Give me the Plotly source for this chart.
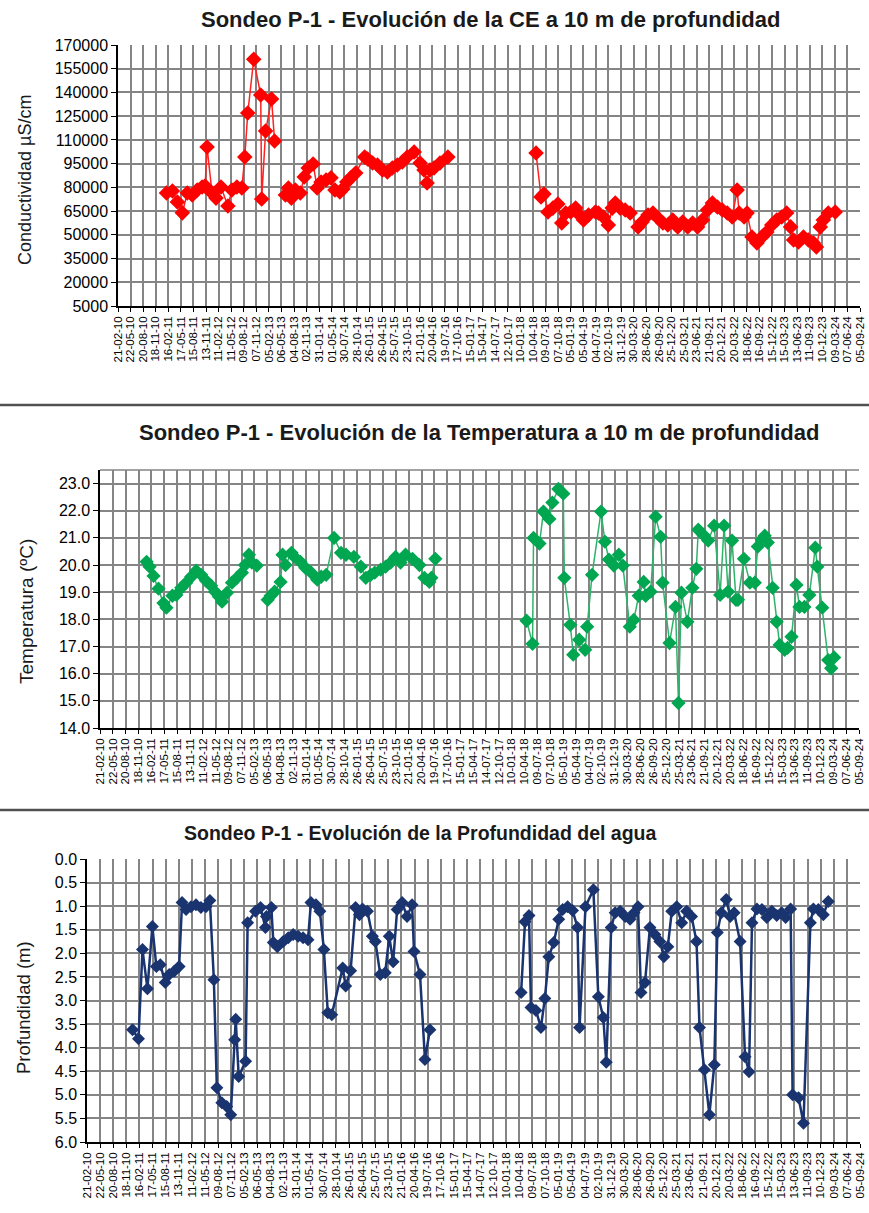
import pandas as pd
import plotly.graph_objects as go

# ---------------- data ----------------
tick_labels = ["21-02-10","22-05-10","20-08-10","18-11-10","16-02-11","17-05-11","15-08-11","13-11-11",
               "11-02-12","11-05-12","09-08-12","07-11-12","05-02-13","06-05-13","04-08-13","02-11-13",
               "31-01-14","01-05-14","30-07-14","28-10-14","26-01-15","26-04-15","25-07-15","23-10-15",
               "21-01-16","20-04-16","19-07-16","17-10-16","15-01-17","15-04-17","14-07-17","12-10-17",
               "10-01-18","10-04-18","09-07-18","07-10-18","05-01-19","05-04-19","04-07-19","02-10-19",
               "31-12-19","30-03-20","28-06-20","26-09-20","25-12-20","25-03-21","23-06-21","21-09-21",
               "20-12-21","20-03-22","18-06-22","16-09-22","15-12-22","15-03-23","13-06-23","11-09-23",
               "10-12-23","09-03-24","07-06-24","05-09-24"]

# Conductividad (decimal year, uS/cm); None = gap
ce_year = [2011.091,2011.207,2011.304,2011.401,2011.498,2011.595,2011.692,2011.789,2011.848,2011.886,
           2011.983,2012.061,2012.158,2012.294,2012.372,2012.469,2012.566,2012.624,2012.682,2012.799,
           2012.935,2012.954,2013.031,2013.148,2013.207,None,
           2013.420,2013.478,2013.537,2013.614,2013.711,2013.789,2013.866,2013.963,2014.041,2014.118,
           2014.216,2014.313,2014.390,2014.487,2014.546,2014.623,2014.701,2014.798,2014.973,2015.031,
           2015.128,2015.225,2015.322,2015.419,2015.516,2015.613,2015.711,2015.807,2015.943,2016.060,
           2016.137,2016.196,2016.254,2016.332,2016.448,2016.603,None,
           2018.331,2018.428,2018.486,2018.564,2018.661,2018.758,2018.835,2018.913,2019.010,2019.107,
           2019.185,2019.262,2019.360,2019.495,2019.554,2019.651,2019.748,2019.825,2019.884,2019.981,
           2020.078,2020.175,2020.330,2020.408,2020.524,2020.621,2020.718,2020.815,2020.912,2021.009,
           2021.106,2021.204,2021.301,2021.398,2021.495,2021.592,2021.689,2021.786,2021.883,2021.980,
           2022.077,2022.174,2022.271,2022.310,2022.407,2022.465,2022.562,2022.659,2022.756,2022.853,
           2022.950,2023.047,2023.144,2023.242,2023.319,2023.377,2023.474,2023.571,2023.668,2023.765,
           2023.824,2023.901,2023.960,2024.057,2024.193]
ce_val = [76400,77700,70700,63900,76400,75200,78300,80200,80800,105500,
          76400,73200,80200,68200,78300,80200,79600,99200,127000,161000,
          138400,72600,115600,135900,109300,None,
          75200,79600,73200,78300,76400,86600,92200,94800,79600,83400,
          84700,86000,78300,77100,79000,83400,86000,89100,99200,97900,
          95400,94100,91000,89700,92200,94100,96000,99200,102400,95400,
          91000,82800,91000,92200,95400,99200,None,
          101700,73900,75800,64400,66900,69500,57500,63800,64400,66900,
          62500,59400,62500,64400,63800,61300,56200,66900,70100,66900,
          65700,63800,55000,58100,62500,63800,60600,57500,56200,59400,
          55000,58100,55000,57500,55000,59400,65700,70100,67600,65700,
          63800,61300,78300,63800,61300,63800,48600,44900,48600,51800,
          56200,59400,61300,63800,55000,46700,45500,48600,46700,44900,
          42300,55000,59400,63800,64400]

# Temperatura (decimal year, ºC)
t_year = [2011.033,2011.090,2011.166,2011.261,2011.356,2011.413,2011.527,2011.603,2011.698,2011.793,
          2011.888,2011.983,2012.078,2012.173,2012.268,2012.344,2012.420,2012.477,2012.573,2012.668,
          2012.763,2012.858,2012.915,2012.991,2013.048,2013.143,None,
          2013.351,2013.408,2013.484,2013.598,2013.636,2013.693,2013.807,2013.864,2013.978,2014.073,
          2014.187,2014.301,2014.377,2014.472,2014.624,2014.757,2014.852,2015.004,2015.137,2015.232,
          2015.327,2015.403,2015.517,2015.612,2015.708,2015.803,2015.898,2015.993,2016.126,2016.259,
          2016.354,2016.449,2016.487,2016.563,None,
          2018.311,2018.425,2018.444,2018.558,2018.634,2018.748,2018.805,2018.920,2019.015,2019.034,
          2019.148,2019.205,2019.319,2019.433,2019.471,2019.566,2019.737,2019.813,2019.889,2019.984,
          2020.079,2020.155,2020.288,2020.364,2020.459,2020.554,2020.592,2020.687,2020.782,2020.877,
          2020.915,2021.048,2021.162,2021.219,2021.276,2021.390,2021.485,2021.561,2021.599,2021.694,
          2021.789,2021.903,2022.018,2022.094,2022.170,2022.246,2022.322,2022.360,2022.474,2022.588,
          2022.683,2022.740,2022.816,2022.873,2022.930,2023.025,2023.101,2023.158,2023.253,2023.310,
          2023.386,2023.481,2023.538,2023.633,2023.728,2023.842,2023.880,2023.975,2024.089,2024.146,
          2024.203]
t_val = [20.12,19.94,19.60,19.13,18.60,18.43,18.87,18.90,19.16,19.35,
         19.57,19.79,19.64,19.42,19.24,19.02,18.83,18.65,18.98,19.35,
         19.53,19.72,20.00,20.38,20.09,19.98,None,
         18.72,18.87,19.02,19.38,20.38,20.00,20.45,20.30,20.12,19.90,
         19.72,19.46,19.57,19.64,21.00,20.45,20.38,20.30,19.94,19.53,
         19.64,19.72,19.83,19.94,20.09,20.30,20.09,20.38,20.23,20.00,
         19.53,19.38,19.53,20.23,None,
         17.95,17.10,21.00,20.79,21.97,21.70,22.30,22.80,22.63,19.53,
         17.80,16.70,17.25,16.88,17.73,19.64,21.97,20.86,20.20,19.98,
         20.38,19.98,17.73,17.98,18.87,19.38,18.87,19.02,21.78,21.04,
         19.35,17.13,18.46,14.92,18.98,17.91,19.16,19.86,21.30,21.12,
         20.90,21.45,18.90,21.45,19.02,20.90,18.72,18.72,20.23,19.35,
         19.35,20.68,20.94,21.08,20.83,19.16,17.91,17.06,16.88,16.95,
         17.36,19.27,18.46,18.46,18.90,20.64,19.94,18.43,16.50,16.20,
         16.60]

# Profundidad del agua (decimal year, m)
p_year = [2010.997,2011.109,2011.184,2011.277,2011.370,2011.445,2011.519,2011.612,2011.687,2011.780,
          2011.873,2011.929,2012.004,2012.097,2012.190,2012.283,2012.377,2012.451,2012.526,2012.582,
          2012.675,2012.768,2012.843,2012.917,2012.936,2012.992,2013.122,2013.160,2013.309,2013.402,
          2013.495,2013.514,2013.607,2013.644,2013.719,2013.831,2013.924,2014.017,2014.110,2014.203,
          2014.296,2014.352,2014.446,2014.520,2014.595,2014.669,2014.744,2014.949,2015.005,2015.098,
          2015.191,2015.266,2015.322,2015.415,2015.508,2015.564,2015.657,2015.750,2015.825,2015.899,
          2015.974,2016.067,2016.160,2016.254,2016.291,2016.403,2016.496,2016.589,None,
          2018.304,2018.378,2018.453,2018.490,2018.583,2018.677,2018.751,2018.826,2018.919,2019.012,
          2019.087,2019.180,2019.273,2019.366,2019.404,2019.516,2019.664,2019.758,2019.851,2019.907,
          2020.000,2020.075,2020.168,2020.261,2020.354,2020.429,2020.503,2020.559,2020.634,2020.727,
          2020.820,2020.913,2020.988,2021.062,2021.137,2021.230,2021.323,2021.417,2021.510,2021.603,
          2021.659,2021.752,2021.845,2021.938,2021.994,2022.069,2022.162,2022.237,2022.311,2022.423,
          2022.516,2022.591,2022.647,2022.740,2022.833,2022.926,2023.020,2023.113,2023.206,2023.280,
          2023.374,2023.411,2023.523,2023.616,2023.746,2023.802,2023.896,2023.989,2024.082]
p_val = [3.62,3.81,1.92,2.75,1.43,2.28,2.24,2.62,2.45,2.38,
         2.28,0.92,1.07,1.01,0.97,1.03,1.01,0.88,2.56,4.85,
         5.17,5.25,5.42,3.83,3.40,4.61,4.29,1.35,1.11,1.03,
         1.45,1.22,1.03,1.77,1.86,1.75,1.67,1.60,1.64,1.67,
         1.71,0.92,0.97,1.11,1.92,3.26,3.30,2.31,2.69,2.37,
         1.03,1.18,1.06,1.11,1.64,1.75,2.45,2.41,1.64,2.18,
         1.07,0.92,1.22,0.97,1.96,2.45,4.25,3.62,None,
         2.83,1.33,1.20,3.15,3.21,3.57,2.96,2.07,1.77,1.28,
         1.07,1.01,1.09,1.45,3.57,1.01,0.65,2.92,3.36,4.31,
         1.45,1.14,1.11,1.22,1.28,1.14,1.01,2.83,2.62,1.45,
         1.60,1.75,2.07,1.86,1.11,1.01,1.35,1.11,1.22,1.75,
         3.57,4.47,5.42,4.36,1.56,1.14,0.86,1.22,1.14,1.75,
         4.19,4.51,1.35,1.06,1.07,1.24,1.11,1.20,1.14,1.24,
         1.06,5.00,5.06,5.60,1.35,1.06,1.07,1.18,0.90]


def to_date(y):
    if y is None:
        return None
    yr = int(y)
    start = pd.Timestamp(yr, 1, 1)
    end = pd.Timestamp(yr + 1, 1, 1)
    return (start + (y - yr) * (end - start)).strftime("%Y-%m-%d %H:%M")


tick_vals = [pd.to_datetime(t, format="%d-%m-%y").strftime("%Y-%m-%d") for t in tick_labels]
x_range = [tick_vals[0], tick_vals[-1]]

W, H = 869, 1213
def px(x):
    return x / W
def py(y):
    return 1 - y / H

FONT = "Liberation Sans, Arial, sans-serif"
GRID = "#858585"

fig = go.Figure()
fig.add_trace(go.Scatter(x=[to_date(v) for v in ce_year], y=ce_val, mode="lines+markers",
                         line=dict(color="#ff2020", width=1.5),
                         marker=dict(symbol="diamond", size=12, color="#ff0000"),
                         xaxis="x", yaxis="y", showlegend=False))
fig.add_trace(go.Scatter(x=[to_date(v) for v in t_year], y=t_val, mode="lines+markers",
                         line=dict(color="#2fb36a", width=1.5),
                         marker=dict(symbol="diamond", size=11, color="#00a650"),
                         xaxis="x2", yaxis="y2", showlegend=False))
fig.add_trace(go.Scatter(x=[to_date(v) for v in p_year], y=p_val, mode="lines+markers",
                         line=dict(color="#1a3470", width=2.5),
                         marker=dict(symbol="diamond", size=10, color="#1a3470"),
                         xaxis="x3", yaxis="y3", showlegend=False))

def xaxis(dom, anchor):
    return dict(domain=dom, anchor=anchor, type="date", range=x_range, automargin=False,
                tickmode="array", tickvals=tick_vals, ticktext=tick_labels, tickangle=-90,
                ticklabeloverflow="allow",
                tickfont=dict(family=FONT, size=11.5, color="black"),
                showgrid=True, gridcolor=GRID, gridwidth=1.5,
                showline=True, linecolor="black", linewidth=1.5,
                ticks="outside", ticklen=4, tickcolor="black", zeroline=False)

def yaxis(dom, anchor, rng, dtick, fmt, tick0):
    return dict(domain=dom, anchor=anchor, range=rng, dtick=dtick, tick0=tick0, tickformat=fmt,
                automargin=False,
                tickfont=dict(family=FONT, size=16, color="black"),
                showgrid=True, gridcolor=GRID, gridwidth=1.5,
                showline=True, linecolor="black", linewidth=1.5,
                ticks="outside", ticklen=5, tickcolor="black", zeroline=False)

fig.update_layout(
    width=W, height=H, autosize=False,
    margin=dict(l=0, r=0, t=0, b=0, autoexpand=False),
    paper_bgcolor="white", plot_bgcolor="white",
    xaxis=xaxis([px(118), px(860)], "y"),
    yaxis=yaxis([py(306), py(45)], "x", [5000, 170000], 15000, "d", 5000),
    xaxis2=xaxis([px(100), px(859)], "y2"),
    yaxis2=yaxis([py(728), py(470)], "x2", [14, 23.5], 1, ".1f", 14),
    xaxis3=xaxis([px(87), px(860)], "y3"),
    yaxis3=yaxis([py(1142), py(859)], "x3", [6, 0], 0.5, ".1f", 0),
)

# top border of temperature plot
fig.add_shape(type="line", xref="x2 domain", yref="y2 domain", x0=0, x1=1, y0=1, y1=1,
              line=dict(color=GRID, width=1.5))

# separators between panels
for ys in (405, 810):
    fig.add_shape(type="line", xref="paper", yref="paper", x0=0, x1=1, y0=py(ys), y1=py(ys),
                  line=dict(color="#505050", width=2.5))

titles = [("Sondeo P-1 - Evolución de la CE a 10 m de profundidad", 490, 20, 22),
          ("Sondeo P-1 - Evolución de la Temperatura a 10 m de profundidad", 480, 433, 22),
          ("Sondeo P-1 - Evolución de la Profundidad del agua", 420, 833, 19.5)]
for text, xc, yc, sz in titles:
    fig.add_annotation(text="<b>%s</b>" % text, xref="paper", yref="paper", x=px(xc), y=py(yc),
                       showarrow=False, xanchor="center", yanchor="middle",
                       font=dict(family=FONT, size=sz, color="#1a1a1a"))

ytitles = [("Conductividad µS/cm", 25, 180, 18),
           ("Temperatura (ºC)", 26, 612, 19),
           ("Profundidad (m)", 23, 1008, 18.5)]
for text, xc, yc, sz in ytitles:
    fig.add_annotation(text=text, xref="paper", yref="paper", x=px(xc), y=py(yc), textangle=-90,
                       showarrow=False, xanchor="center", yanchor="middle",
                       font=dict(family=FONT, size=sz, color="#1a1a1a"))

fig.write_html("out.html", post_script="document.body.style.margin='0';",
               config={"displayModeBar": False})
